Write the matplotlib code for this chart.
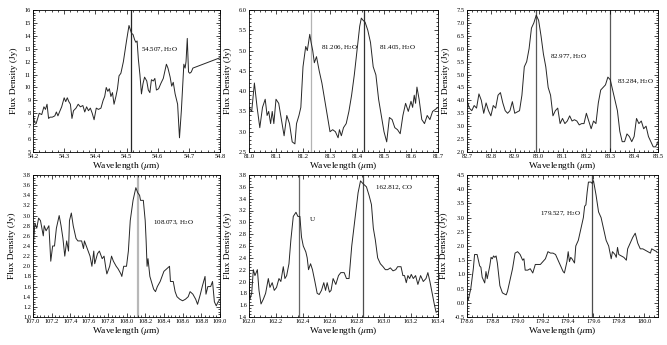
import matplotlib
matplotlib.use("Agg")
import matplotlib.pyplot as plt
from matplotlib.ticker import MultipleLocator, AutoMinorLocator

plt.rcParams["font.family"] = "Liberation Serif"
plt.rcParams["mathtext.fontset"] = "stix"

# panel 1 : 54.2 - 54.8 um
wl1 = [54.200, 54.205, 54.210, 54.215, 54.220, 54.228, 54.235, 54.240, 54.245, 54.250, 54.255,
       54.262, 54.270, 54.275, 54.280, 54.285, 54.292, 54.300, 54.305, 54.310, 54.315, 54.320,
       54.325, 54.330, 54.338, 54.345, 54.352, 54.360, 54.366, 54.372, 54.378, 54.384, 54.390,
       54.396, 54.403, 54.410, 54.418, 54.425, 54.430, 54.435, 54.440, 54.445, 54.450, 54.455,
       54.460, 54.466, 54.471, 54.476, 54.482, 54.490, 54.500, 54.508, 54.512, 54.516, 54.521,
       54.526, 54.530, 54.534, 54.538, 54.543, 54.548, 54.553, 54.558, 54.565, 54.570, 54.575,
       54.580, 54.586, 54.591, 54.596, 54.603, 54.610, 54.618, 54.628, 54.633, 54.640, 54.645,
       54.650, 54.656, 54.664, 54.670, 54.676, 54.680, 54.684, 54.688, 54.691, 54.695, 54.699,
       54.703, 54.708, 54.713, 54.800]
fx1 = [7.9, 7.3, 7.2, 7.6, 8.0, 7.9, 8.5, 8.3, 8.7, 7.6, 7.7,
       7.7, 7.8, 8.1, 7.8, 8.1, 8.5, 9.2, 8.9, 9.2, 8.9, 8.7,
       7.6, 8.2, 8.4, 8.7, 8.5, 8.6, 8.1, 8.5, 8.2, 8.4, 8.0,
       7.5, 8.4, 8.3, 8.4, 9.0, 9.3, 10.0, 9.7, 9.9, 9.3, 9.6,
       8.7, 9.3, 9.9, 10.9, 11.1, 12.0, 13.6, 14.8, 14.5, 14.2, 14.1,
       13.7, 13.5, 13.6, 12.2, 11.0, 9.5, 10.3, 10.8, 10.5, 9.8, 9.6,
       10.6, 10.5, 10.7, 9.8, 9.9, 10.3, 10.7, 11.8, 11.5, 10.8, 10.1,
       10.4, 9.5, 8.7, 6.1, 8.2, 10.0, 11.8, 11.5, 12.0, 13.8, 11.2,
       11.1, 11.2, 11.5, 12.3]

# panel 2 : 81.0 - 81.7 um
wl2 = [81.000, 81.010, 81.020, 81.030, 81.040, 81.050, 81.060, 81.067, 81.073, 81.080, 81.086,
       81.092, 81.100, 81.110, 81.120, 81.130, 81.140, 81.150, 81.160, 81.170, 81.176, 81.185,
       81.192, 81.200, 81.210, 81.216, 81.225, 81.230, 81.236, 81.242, 81.250, 81.260, 81.270,
       81.280, 81.290, 81.300, 81.310, 81.320, 81.330, 81.335, 81.342, 81.350, 81.360, 81.370,
       81.380, 81.390, 81.400, 81.410, 81.416, 81.422, 81.430, 81.440, 81.450, 81.460, 81.470,
       81.480, 81.490, 81.500, 81.510, 81.520, 81.530, 81.540, 81.550, 81.560, 81.570, 81.580,
       81.590, 81.600, 81.606, 81.612, 81.617, 81.622, 81.630, 81.640, 81.650, 81.660, 81.670,
       81.680, 81.690, 81.700]
fx2 = [3.6, 3.5, 4.2, 3.6, 3.1, 3.6, 3.8, 3.4, 3.5, 3.2, 3.5,
       3.2, 3.8, 3.7, 3.3, 2.9, 3.4, 3.2, 2.75, 2.7, 3.2, 3.4,
       3.6, 4.6, 5.1, 5.0, 5.4, 5.2, 5.0, 4.7, 4.85, 4.5, 4.2,
       3.8, 3.4, 3.0, 3.05, 3.0, 2.85, 3.05, 2.9, 3.1, 3.2, 3.5,
       3.9, 4.4, 5.0, 5.6, 5.8, 5.75, 5.7, 5.5, 5.2, 4.6, 4.4,
       3.8, 3.4, 3.0, 2.75, 3.35, 3.3, 3.1, 3.05, 2.95, 3.4, 3.7,
       3.5, 3.75, 3.6, 3.9, 3.7, 4.1, 3.8, 3.3, 3.2, 3.4, 3.3,
       3.5, 3.55, 3.6]

# panel 3 : 82.7 - 83.5 um
wl3 = [82.70, 82.71, 82.72, 82.73, 82.74, 82.75, 82.76, 82.77, 82.78, 82.79, 82.80,
       82.81, 82.82, 82.83, 82.84, 82.85, 82.86, 82.87, 82.88, 82.89, 82.90, 82.91,
       82.92, 82.93, 82.94, 82.95, 82.96, 82.97, 82.98, 82.99, 83.00, 83.01, 83.02,
       83.03, 83.04, 83.05, 83.06, 83.07, 83.08, 83.09, 83.10, 83.11, 83.12, 83.13,
       83.14, 83.15, 83.16, 83.17, 83.18, 83.19, 83.20, 83.21, 83.22, 83.23, 83.24,
       83.25, 83.26, 83.27, 83.28, 83.29, 83.30, 83.31, 83.32, 83.33, 83.34, 83.35,
       83.36, 83.37, 83.38, 83.39, 83.40, 83.41, 83.42, 83.43, 83.44, 83.45, 83.46,
       83.47, 83.48, 83.49, 83.50]
fx3 = [4.0, 3.7, 3.6, 3.8, 3.7, 4.25, 4.0, 3.5, 3.9, 3.6, 3.4,
       3.8, 3.7, 4.2, 4.3, 3.9, 3.6, 3.5, 3.6, 3.95, 3.5, 3.55,
       3.6, 4.2, 5.3, 5.5, 6.0, 6.8, 7.0, 7.3, 7.1, 6.5, 5.8,
       5.3, 4.5, 4.2, 3.4, 3.6, 3.7, 3.1, 3.3, 3.1, 3.2, 3.4,
       3.2, 3.25, 3.2, 3.05, 3.1, 3.1, 3.5, 3.2, 2.9, 3.2, 3.1,
       3.9, 4.4, 4.5, 4.6, 4.9, 4.8, 4.4, 4.0, 3.6, 2.8, 2.4,
       2.4, 2.7, 2.6, 2.4, 2.6, 3.3, 3.1, 3.2, 2.9, 3.0, 2.6,
       2.4, 2.2, 2.2, 2.4]

# panel 4 : 107.0 - 109.0 um
wl4 = [107.00, 107.02, 107.04, 107.06, 107.08, 107.11, 107.12, 107.14, 107.17, 107.19, 107.21,
       107.23, 107.25, 107.28, 107.30, 107.32, 107.34, 107.36, 107.38, 107.39, 107.41, 107.43,
       107.46, 107.48, 107.52, 107.54, 107.55, 107.58, 107.61, 107.63, 107.65, 107.66, 107.69,
       107.71, 107.74, 107.76, 107.78, 107.79, 107.82, 107.84, 107.86, 107.89, 107.91, 107.94,
       107.95, 107.97, 108.00, 108.02, 108.04, 108.07, 108.10, 108.12, 108.14, 108.15, 108.18,
       108.20, 108.21, 108.22, 108.23, 108.25, 108.29, 108.31, 108.33, 108.36, 108.40, 108.43,
       108.46, 108.47, 108.50, 108.52, 108.54, 108.57, 108.60, 108.63, 108.66, 108.68, 108.71,
       108.74, 108.76, 108.79, 108.81, 108.84, 108.85, 108.87, 108.90, 108.92, 108.94, 108.96,
       108.98, 109.00]
fx4 = [2.3, 2.85, 2.75, 2.95, 2.9, 2.6, 2.8, 2.7, 2.8, 2.1, 2.4,
       2.4, 2.75, 3.0, 2.8, 2.55, 2.2, 2.5, 2.3, 2.9, 3.05, 2.8,
       2.55, 2.5, 2.5, 2.35, 2.5, 2.35, 2.2, 2.0, 2.3, 2.05, 2.25,
       2.3, 2.15, 2.2, 1.95, 1.85, 2.0, 2.2, 2.1, 2.0, 1.95, 1.85,
       1.8, 2.0, 2.0, 2.3, 2.9, 3.3, 3.55, 3.45, 3.4, 3.3, 3.3,
       2.9, 2.5, 2.0, 2.15, 1.8, 1.55, 1.5, 1.6, 1.7, 1.9, 1.95,
       2.0, 1.7, 1.7, 1.5, 1.4, 1.35, 1.32, 1.35, 1.4, 1.5, 1.45,
       1.35, 1.25, 1.45, 1.6, 1.8, 1.45, 1.6, 1.6, 1.7, 1.3, 1.22,
       1.3, 1.35]

# panel 5 : 162.0 - 163.4 um
wl5 = [162.000, 162.007, 162.020, 162.032, 162.044, 162.062, 162.074, 162.089, 162.106, 162.123, 162.143,
       162.155, 162.172, 162.187, 162.204, 162.222, 162.236, 162.254, 162.266, 162.279, 162.296, 162.310,
       162.328, 162.348, 162.362, 162.377, 162.389, 162.402, 162.421, 162.431, 162.441, 162.456, 162.470,
       162.488, 162.505, 162.520, 162.537, 162.554, 162.567, 162.579, 162.596, 162.608, 162.623, 162.643,
       162.663, 162.680, 162.705, 162.722, 162.741, 162.761, 162.808, 162.826, 162.846, 162.870, 162.890,
       162.907, 162.921, 162.936, 162.953, 162.973, 162.993, 163.010, 163.027, 163.047, 163.067, 163.087,
       163.101, 163.116, 163.126, 163.140, 163.152, 163.165, 163.177, 163.190, 163.202, 163.217, 163.234,
       163.251, 163.271, 163.291, 163.311, 163.325, 163.340, 163.357, 163.374, 163.386, 163.400]
fx5 = [2.0, 1.7, 1.8, 2.2, 2.1, 2.2, 1.85, 1.62, 1.7, 1.8, 2.05,
       1.9, 1.98, 1.85, 1.9, 2.05, 2.0, 2.25, 2.05, 2.1, 2.3, 2.7,
       3.1, 3.17, 3.1, 3.1, 2.75, 2.6, 2.5, 2.4, 2.2, 2.3, 2.2,
       2.0, 1.8, 1.78, 1.85, 1.98, 1.85, 1.98, 1.82, 1.85, 2.05, 1.95,
       2.1, 2.15, 2.15, 2.05, 2.05, 2.6, 3.5, 3.7, 3.65, 3.6, 3.45,
       3.3, 2.9, 2.7, 2.4, 2.3, 2.25, 2.2, 2.2, 2.23, 2.18, 2.2,
       2.25, 2.25, 2.25, 2.1, 2.1, 1.98, 2.1, 2.05, 2.12, 2.05, 2.1,
       1.95, 2.1, 2.0, 2.05, 2.15, 2.0, 1.8, 1.6, 1.48, 1.5]

# panel 6 : 178.6 - 180.1 um
wl6 = [178.60, 178.61, 178.63, 178.65, 178.66, 178.68, 178.69, 178.70, 178.71, 178.72, 178.74,
       178.75, 178.76, 178.78, 178.79, 178.80, 178.81, 178.82, 178.83, 178.84, 178.85, 178.86,
       178.88, 178.90, 178.91, 178.92, 178.94, 178.96, 178.98, 179.00, 179.02, 179.04, 179.05,
       179.06, 179.08, 179.10, 179.12, 179.14, 179.16, 179.18, 179.20, 179.22, 179.24, 179.26,
       179.28, 179.30, 179.32, 179.34, 179.36, 179.37, 179.39, 179.40, 179.41, 179.42, 179.43,
       179.45, 179.46, 179.48, 179.50, 179.52, 179.53, 179.54, 179.55, 179.56, 179.58, 179.59,
       179.60, 179.62, 179.64, 179.66, 179.68, 179.70, 179.72, 179.74, 179.75, 179.77, 179.78,
       179.79, 179.80, 179.82, 179.84, 179.86, 179.87, 179.89, 179.91, 179.93, 179.95, 179.97,
       179.99, 180.01, 180.03, 180.05, 180.06, 180.08, 180.10]
fx6 = [0.2, 0.1, 0.5, 1.2, 1.7, 1.7, 1.5, 1.3, 1.25, 0.9, 0.7,
       1.1, 0.85, 1.3, 1.6, 1.55, 1.65, 1.6, 1.65, 1.4, 1.0, 0.6,
       0.35, 0.3, 0.28, 0.4, 0.8, 1.2, 1.75, 1.8, 1.7, 1.5, 1.55,
       1.15, 1.15, 1.2, 1.05, 1.35, 1.35, 1.35, 1.45, 1.55, 1.8, 1.75,
       1.75, 1.7, 1.5, 1.3, 1.1, 1.05, 1.45, 1.8, 1.45, 1.6, 1.55,
       1.4, 2.0, 2.2, 2.6, 3.0, 3.4, 3.45, 3.9, 4.25, 4.25, 4.2,
       4.3, 3.8, 3.2, 3.0, 2.6, 2.2, 2.0, 1.55, 1.8, 1.7, 1.6,
       1.95, 1.7, 1.65, 1.6, 1.5, 1.9, 2.1, 2.3, 2.45, 2.1, 1.9,
       1.9, 1.85, 1.8, 1.75, 1.9, 1.85, 1.8]

panels = [
    # x, y, xlim, ylim, x step, y step, marker lines (pos, grey), labels
    (wl1, fx1, (54.2, 54.8), (5, 16), 0.1, 1, [(54.516, "0.15")],
     [(54.546, 12.9, "54.507, H$_2$O")]),
    (wl2, fx2, (81.0, 81.7), (2.5, 6.0), 0.1, 0.5, [(81.228, "0.7"), (81.425, "0.2")],
     [(81.265, 5.08, "81.206, H$_2$O"), (81.482, 5.08, "81.405, H$_2$O")]),
    (wl3, fx3, (82.7, 83.5), (2.0, 7.5), 0.1, 0.5, [(82.99, "0.35"), (83.298, "0.35")],
     [(83.046, 5.68, "82.977, H$_2$O"), (83.33, 4.72, "83.284, H$_2$O")]),
    (wl4, fx4, (107.0, 109.0), (1.0, 3.8), 0.2, 0.2, [(108.125, "0.72")],
     [(108.285, 2.87, "108.073, H$_2$O")]),
    (wl5, fx5, (162.0, 163.4), (1.4, 3.8), 0.2, 0.2, [(162.37, "0.4"), (162.845, "0.3")],
     [(162.45, 3.05, "U"), (162.94, 3.6, "162.812, CO")]),
    (wl6, fx6, (178.6, 180.11), (-0.5, 4.5), 0.2, 0.5, [(179.59, "0.3")],
     [(179.18, 3.15, "179.527, H$_2$O")]),
]

W, H = 667, 345
lefts = [33, 249, 467]
rights = [220, 438, 658]
tops = [10, 175]
bots = [152, 317]

fig = plt.figure(figsize=(W / 100, H / 100), dpi=100)

for i, (x, y, xl, yl, xm, ym, lines, labels) in enumerate(panels):
    r, c = divmod(i, 3)
    ax = fig.add_axes([lefts[c] / W, 1 - bots[r] / H,
                       (rights[c] - lefts[c]) / W, (bots[r] - tops[r]) / H])
    for lx, lc in lines:
        lw = 1.6 if lc == "0.72" else 0.9
        ax.axvline(lx, color=lc, lw=lw, zorder=1)
    ax.plot(x, y, color="0.15", lw=0.7, zorder=2)
    for tx, ty, t in labels:
        ax.text(tx, ty, t, fontsize=5, va="center")
    ax.set_xlim(*xl)
    ax.set_ylim(*yl)
    ax.xaxis.set_major_locator(MultipleLocator(xm))
    ax.yaxis.set_major_locator(MultipleLocator(ym))
    ax.xaxis.set_minor_locator(AutoMinorLocator(5))
    ax.yaxis.set_minor_locator(AutoMinorLocator(5 if ym != 0.2 else 4))
    ax.tick_params(which="both", direction="in", top=True, right=True,
                   labelsize=4.6, pad=1.5, width=0.5)
    ax.tick_params(which="major", length=3)
    ax.tick_params(which="minor", length=1.5)
    ax.xaxis.set_major_formatter(plt.FormatStrFormatter("%.1f"))
    if ym == 1:
        ax.yaxis.set_major_formatter(plt.FormatStrFormatter("%d"))
    else:
        ax.yaxis.set_major_formatter(plt.FormatStrFormatter("%.1f"))
    for s in ax.spines.values():
        s.set_linewidth(0.6)
    ax.set_xlabel(r"Wavelength ($\mu$m)", fontsize=6.8, labelpad=0.5)
    ax.set_ylabel("Flux Density (Jy)", fontsize=6.8, labelpad=5)

fig.savefig("out.png", dpi=100)
